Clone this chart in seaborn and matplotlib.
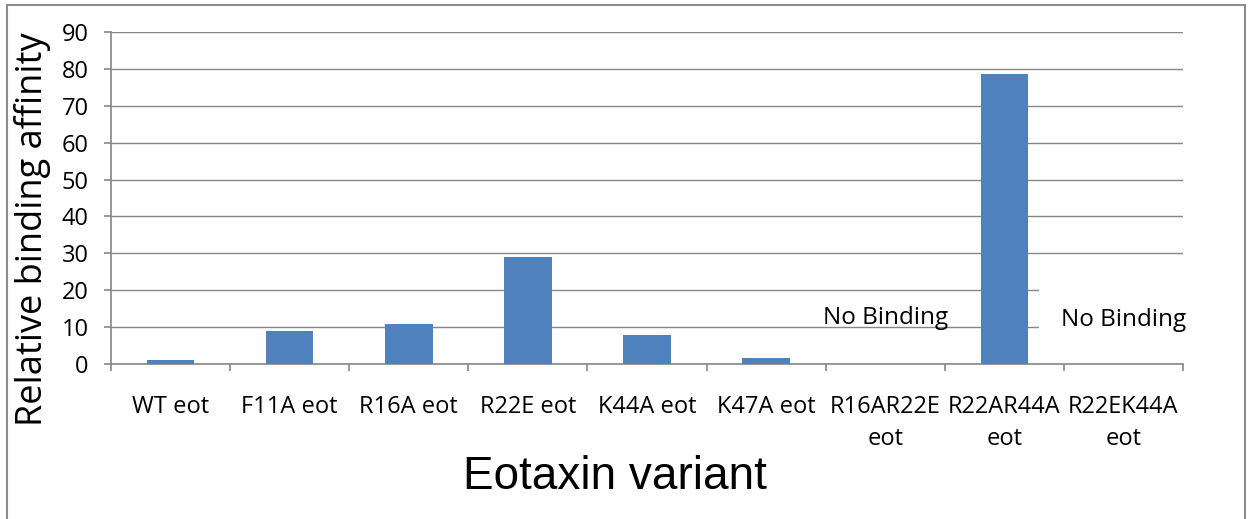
import matplotlib
matplotlib.use("Agg")
import matplotlib.pyplot as plt
import seaborn as sns
import pandas as pd
import numpy as np
from matplotlib.patches import Rectangle

categories = ["WT eot", "F11A eot", "R16A eot", "R22E eot", "K44A eot", "K47A eot",
              "R16AR22E\neot", "R22AR44A\neot", "R22EK44A\neot"]
values = [1.1, 8.9, 10.8, 29.0, 7.9, 1.7, 0.0, 78.5, 0.0]
no_binding = ["R16AR22E\neot", "R22EK44A\neot"]
yticks = [0, 10, 20, 30, 40, 50, 60, 70, 80, 90]

df = pd.DataFrame({"variant": categories, "affinity": values})

sns.set_theme(style="white")
plt.rcParams['font.family'] = ['Open Sans', 'DejaVu Sans']

W, H = 1253, 519
fig = plt.figure(figsize=(W / 100, H / 100), dpi=100)
ax = fig.add_axes([111 / W, 1 - 364 / H, (1183 - 111) / W, (364 - 32) / H])

grid_c = "#868686"
sns.barplot(data=df, x="variant", y="affinity", ax=ax, color="#4F81BD",
            width=0.4, saturation=1, linewidth=0, zorder=3)

ax.set_ylim(0, 90)
ax.set_xlim(-0.5, len(categories) - 0.5)
ax.set_yticks(yticks)
ax.set_yticklabels([str(v) for v in yticks])
ax.yaxis.grid(True, color=grid_c, linewidth=1.0, zorder=0)
ax.set_axisbelow(True)
ax.set_xlabel("")
ax.set_ylabel("")

for s in ["top", "right"]:
    ax.spines[s].set_visible(False)
for s in ["left", "bottom"]:
    ax.spines[s].set_color(grid_c)
    ax.spines[s].set_linewidth(1.2)

# boundary ticks on x axis
ax.set_xticks(np.arange(-0.5, len(categories)), minor=True)
ax.tick_params(axis="x", which="major", length=0, pad=22, labelsize=17, labelcolor="black")
ax.tick_params(axis="x", which="minor", length=5, width=1.2, color=grid_c, direction="out", bottom=True)
ax.tick_params(axis="y", which="major", length=5, width=1.2, color=grid_c, direction="out",
               left=True, pad=11, labelsize=17, labelcolor="black")
for lab in ax.get_xticklabels():
    lab.set_linespacing(1.45)
    lab.set_ha("center")
    lab.set_va("top")

# No Binding annotations
idx1 = categories.index(no_binding[0])
idx2 = categories.index(no_binding[1])
ax.text(idx1, 12.4, "No Binding", ha="center", va="center", fontsize=17.5,
        color="black", zorder=5)
ax.text(idx2, 12.0, "No Binding", ha="center", va="center", fontsize=17.5,
        color="black", zorder=5, clip_on=False,
        bbox=dict(boxstyle="square,pad=0.9", fc="white", ec="none"))

fig.text(33 / W, 1 - 229 / H, "Relative binding affinity", rotation=90,
         ha="center", va="center", fontsize=26, color="black")
fig.text(615 / W, 1 - 477 / H, "Eotaxin variant", ha="center", va="center",
         fontsize=33, color="black", family=["Liberation Sans", "DejaVu Sans"])

# outer chart border
fig.patches.append(Rectangle((7 / W, -0.05), (1245 - 7) / W, 1.05 - 5 / H,
                             transform=fig.transFigure, fill=False,
                             edgecolor="#8c8c8c", linewidth=1.5))

fig.savefig("out.png", dpi=100, facecolor="white")
